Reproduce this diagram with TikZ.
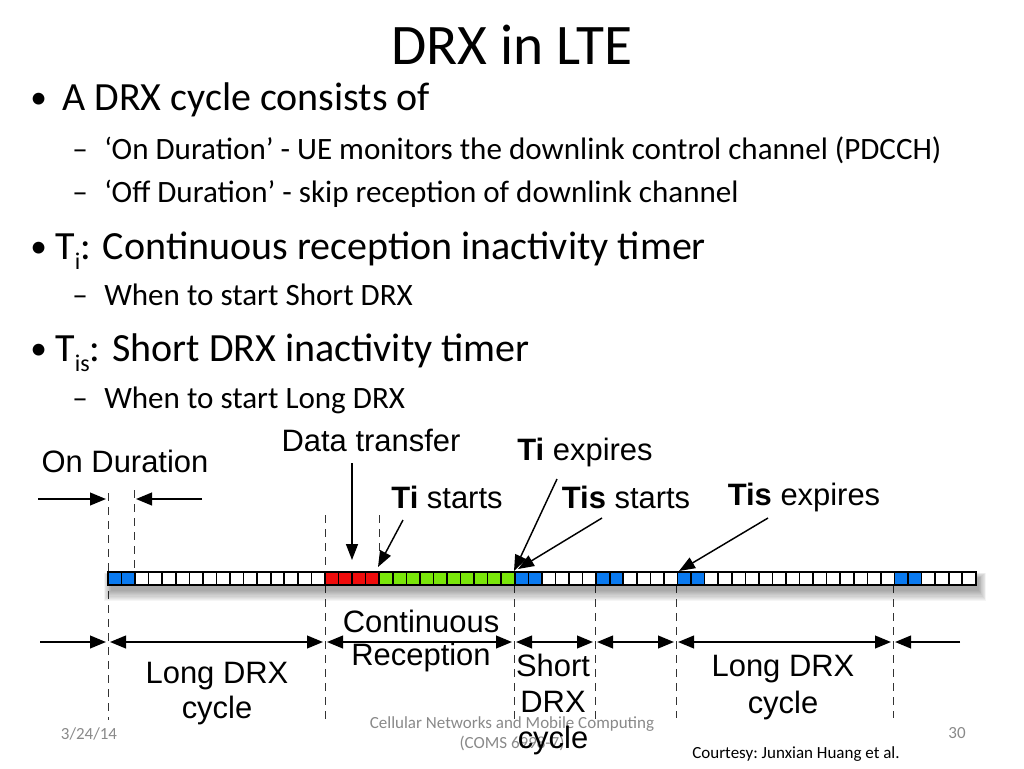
\documentclass[tikz,border=0pt]{standalone}
\usepackage{fontspec}
\setmainfont{Carlito}
\newfontfamily\hv{Liberation Sans}
\usetikzlibrary{arrows.meta}
\definecolor{cblue}{RGB}{10,122,240}
\definecolor{cred}{RGB}{240,12,12}
\definecolor{cgreen}{RGB}{122,230,10}
\definecolor{footgray}{RGB}{137,137,137}
\newcommand{\lowsub}[1]{{\fontsize{18}{18}\selectfont\raisebox{-7.5pt}{#1}}}
\frenchspacing
\begin{document}
\frenchspacing
\begin{tikzpicture}[x=0.75pt,y=-0.75pt,
 titlestyle/.style={font=\fontsize{43}{50}\selectfont, anchor=base, inner sep=0},
 lone/.style={font=\fontsize{30}{36}\selectfont, anchor=base west, inner sep=0},
 bul/.style={font=\fontsize{25}{30}\selectfont, anchor=base west, inner sep=0},
 ltwo/.style={font=\fontsize{23.3}{28}\selectfont, anchor=base west, inner sep=0},
 lab/.style={font=\hv\fontsize{23.2}{27}\selectfont, anchor=base, inner sep=0},
 footstyle/.style={font=\fontsize{12.75}{15}\selectfont, text=footgray, anchor=base, inner sep=0},
 dsh/.style={dash pattern=on 6pt off 4.5pt, line width=0.6pt, black!80},
 arr/.style={line width=1.5pt, -{Triangle[length=12pt,width=9.5pt]}},
 darr/.style={line width=1.5pt, {Triangle[length=12pt,width=9.5pt]}-{Triangle[length=12pt,width=9.5pt]}},
 parr/.style={line width=1.1pt, -{Triangle[length=12pt,width=9pt]}},
 cellstyle/.style={draw=black, line width=1.2pt}]

\useasboundingbox (0,0) rectangle (1024,768);

% ---------- slide text ----------
\node[titlestyle] (title) at (512,64) {DRX in LTE};

\node[bul] (dot1) at (30,108) {•};
\node[lone] (b1) at (62,110) {A DRX cycle consists of};
\node[ltwo] (dash1) at (72,159) {–};
\node[ltwo] (s1) at (104,159) {‘On Duration’ - UE monitors the downlink control channel (PDCCH)};
\node[ltwo] (dash2) at (72,202) {–};
\node[ltwo] (s2) at (104,202) {‘Off Duration’ - skip reception of downlink channel};

\node[bul] (dot2) at (30,257) {•};
\node[lone] (b2) at (55,259) {T\lowsub{i}:\hspace{0.3em}Continuous reception inactivity timer};
\node[ltwo] (dash3) at (72,305) {–};
\node[ltwo] (s3) at (104,305) {When to start Short DRX};

\node[bul] (dot3) at (30,359) {•};
\node[lone] (b3) at (55,361) {T\lowsub{is}:\hspace{0.3em}Short DRX inactivity timer};
\node[ltwo] (dash4) at (72,408) {–};
\node[ltwo] (s4) at (104,408) {When to start Long DRX};

% ---------- footer ----------
\node[footstyle] (date) at (89,739) {3/24/14};
\node[footstyle] (course1) at (512,728) {Cellular Networks and Mobile Computing};
\node[footstyle] (course2) at (512,748) {(COMS 6998-7)};
\node[footstyle] (page) at (957,738) {30};
\node[footstyle, text=black] (court) at (796,758) {Courtesy: Junxian Huang et al.};

% ---------- dashed boundaries ----------
\draw[dsh] (108,493) -- (108,720);
\draw[dsh] (134,490) -- (134,572);
\draw[dsh] (325,515) -- (325,720);
\draw[dsh] (379,515) -- (379,572);
\draw[dsh] (514,585) -- (514,720);
\draw[dsh] (595,585) -- (595,720);
\draw[dsh] (676,585) -- (676,718);
\draw[dsh] (893,585) -- (893,718);

% ---------- shadow ----------
\foreach \k in {0,...,9}
  \fill[black, opacity=0.04] ({111-\k*0.8},{578-\k*0.6}) rectangle ({979+\k*0.8},{591+\k*1.1});

% ---------- cells ----------
\foreach \a/\b/\c in {0/2/cblue,2/16/white,16/20/cred,20/30/cgreen,30/32/cblue,32/36/white,36/38/cblue,38/42/white,42/44/cblue,44/58/white,58/60/cblue,60/64/white}{
  \pgfmathtruncatemacro\e{\b-1}
  \foreach \i in {\a,...,\e}
    \draw[cellstyle, fill=\c] ({108+\i*13.56},572) rectangle ({108+(\i+1)*13.56},585);
}

% ---------- arrow row ----------
\coordinate (aL) at (40,642);
\coordinate (a0) at (108,642);
\coordinate (a1) at (325,642);
\coordinate (a2) at (514,642);
\coordinate (a3) at (595,642);
\coordinate (a4) at (676,642);
\coordinate (a5) at (893,642);
\coordinate (aR) at (960,642);
\draw[arr, shorten >=1.5pt] (aL) -- (a0);
\draw[darr, shorten <=1.5pt, shorten >=1.5pt] (a0) -- (a1);
\draw[darr, shorten <=1.5pt, shorten >=1.5pt] (a1) -- (a2);
\draw[darr, shorten <=1.5pt, shorten >=1.5pt] (a2) -- (a3);
\draw[darr, shorten <=1.5pt, shorten >=1.5pt] (a3) -- (a4);
\draw[darr, shorten <=1.5pt, shorten >=1.5pt] (a4) -- (a5);
\draw[arr, shorten >=1.5pt] (aR) -- (a5);

% ---------- on duration ----------
\node[lab] (ondur) at (125,472) {On Duration};
\coordinate (od1s) at (38,499);
\coordinate (od1e) at (106,499);
\coordinate (od2s) at (202,499);
\coordinate (od2e) at (136,499);
\draw[arr] (od1s) -- (od1e);
\draw[arr] (od2s) -- (od2e);

% ---------- event labels ----------
\node[lab] (data) at (371,451) {Data transfer};
\node[lab] (tist) at (447,508) {{\bfseries Ti} starts};
\node[lab] (tiex) at (585,460) {{\bfseries Ti} expires};
\node[lab] (tisst) at (626,508) {{\bfseries Tis} starts};
\node[lab] (tisex) at (804,505) {{\bfseries Tis} expires};

\coordinate (p1s) at (352,463); \coordinate (p1e) at (352,560);
\coordinate (p2s) at (403,520); \coordinate (p2e) at (378,567);
\coordinate (p3s) at (557,479); \coordinate (p3e) at (514,571);
\coordinate (p4s) at (602,518); \coordinate (p4e) at (518,569);
\coordinate (p5s) at (768,518); \coordinate (p5e) at (679,571);
\draw[parr] (p1s) -- (p1e);
\draw[parr] (p2s) -- (p2e);
\draw[parr] (p3s) -- (p3e);
\draw[parr] (p4s) -- (p4e);
\draw[parr] (p5s) -- (p5e);

% ---------- period labels ----------
\node[lab] (ld1a) at (217,683) {Long DRX};
\node[lab] (ld1b) at (217,718) {cycle};
\node[lab] (cr1) at (421,632) {Continuous};
\node[lab] (cr2) at (421,665) {Reception};
\node[lab] (sd1) at (553,676) {Short};
\node[lab] (sd2) at (553,712) {DRX};
\node[lab] (sd3) at (553,748) {cycle};
\node[lab] (ld2a) at (783,676) {Long DRX};
\node[lab] (ld2b) at (783,713) {cycle};
\end{tikzpicture}
\end{document}
